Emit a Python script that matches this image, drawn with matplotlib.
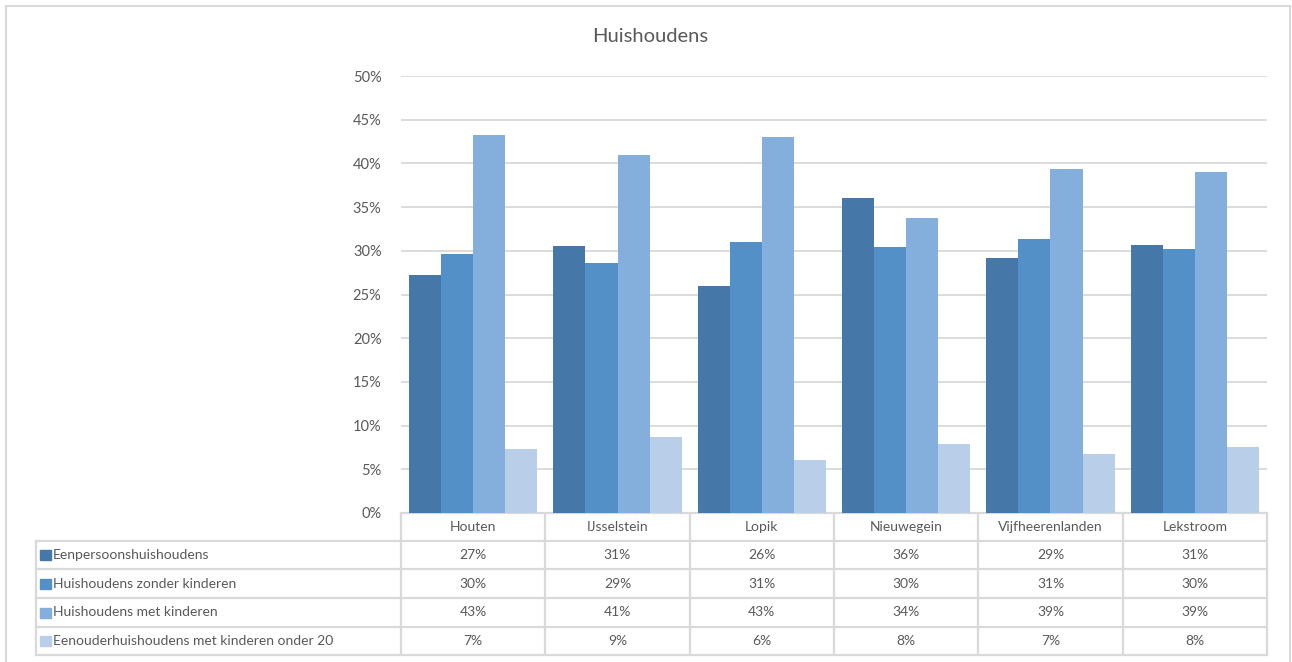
import numpy as np
import matplotlib.pyplot as plt
from matplotlib.patches import Rectangle

plt.rcParams['font.family'] = ['Lato', 'DejaVu Sans']

# data
Gemeenten = ['Houten', 'IJsselstein', 'Lopik', 'Nieuwegein', 'Vijfheerenlanden', 'Lekstroom']
SeriesNames = ['Eenpersoonshuishoudens', 'Huishoudens zonder kinderen',
               'Huishoudens met kinderen', 'Eenouderhuishoudens met kinderen onder 20']
Eenpersoons = [27.2, 30.6, 26.0, 36.0, 29.2, 30.7]
ZonderKinderen = [29.6, 28.6, 31.0, 30.4, 31.4, 30.2]
MetKinderen = [43.2, 41.0, 43.0, 33.7, 39.4, 39.0]
Eenouder = [7.3, 8.7, 6.1, 7.9, 6.8, 7.5]
YTicks = [0, 5, 10, 15, 20, 25, 30, 35, 40, 45, 50]

Series = [Eenpersoons, ZonderKinderen, MetKinderen, Eenouder]
Colors = ['#4577A8', '#5490C8', '#84AEDC', '#B9CEE8']
TextColor = '#595959'
GridColor = '#D9D9D9'

W, H = 1292, 662
fig = plt.figure(figsize=(W/100, H/100), dpi=100)
ax = fig.add_axes([401/W, 1-513/H, 866/W, 437/H])

BarWidth = 0.222
x = np.arange(len(Gemeenten))
for i, (vals, col) in enumerate(zip(Series, Colors)):
    ax.bar(x + (i-1.5)*BarWidth, vals, width=BarWidth, color=col, zorder=3)

ax.set_xlim(-0.5, len(Gemeenten)-0.5)
ax.set_ylim(0, 50)
ax.set_yticks(YTicks)
ax.set_yticklabels([f'{t}%' for t in YTicks], color=TextColor, fontsize=10.5)
ax.tick_params(axis='y', length=0, pad=14)
ax.set_xticks([])
ax.grid(axis='y', color=GridColor, lw=1.3, zorder=0)
for s in ax.spines.values():
    s.set_visible(False)

fig.text(650/W, 1-36/H, 'Huishoudens', ha='center', va='center', fontsize=14.5, color=TextColor)

# data table under the chart (axes fraction coords)
tr = ax.transAxes
RowY = [(513-py)/437 for py in [513, 541, 569, 598, 627, 655]]
LegLeft = (36-401)/866
ColX = [i/len(Gemeenten) for i in range(len(Gemeenten)+1)]
lk = dict(color=GridColor, lw=1.6, transform=tr, clip_on=False, zorder=1)
ax.plot([0, 1], [RowY[0], RowY[0]], **lk)
for y in RowY[1:]:
    ax.plot([LegLeft, 1], [y, y], **lk)
for cx in ColX:
    ax.plot([cx, cx], [RowY[0], RowY[-1]], **lk)
ax.plot([LegLeft, LegLeft], [RowY[1], RowY[-1]], **lk)

for j, g in enumerate(Gemeenten):
    cx = (ColX[j]+ColX[j+1])/2
    ax.text(cx, (RowY[0]+RowY[1])/2, g, transform=tr, ha='center', va='center',
            fontsize=10, color=TextColor)
for i, (name, vals, col) in enumerate(zip(SeriesNames, Series, Colors)):
    yc = (RowY[i+1]+RowY[i+2])/2
    ax.add_patch(Rectangle((LegLeft + 4/866, yc - 5/437), 11/866, 10/437, transform=tr,
                           color=col, clip_on=False))
    ax.text(LegLeft + 17/866, yc, name, transform=tr, ha='left', va='center',
            fontsize=10, color=TextColor)
    for j, v in enumerate(vals):
        cx = (ColX[j]+ColX[j+1])/2
        ax.text(cx, yc, f'{int(v + 0.5)}%', transform=tr, ha='center', va='center',
                fontsize=10, color=TextColor)

# chart area frame
fig.patches.append(Rectangle((6/W, -0.05), 1284/W, 1-6/H+0.05, transform=fig.transFigure,
                             fill=False, edgecolor=GridColor, lw=1.5))

fig.savefig('out.png', dpi=100, facecolor='white')
